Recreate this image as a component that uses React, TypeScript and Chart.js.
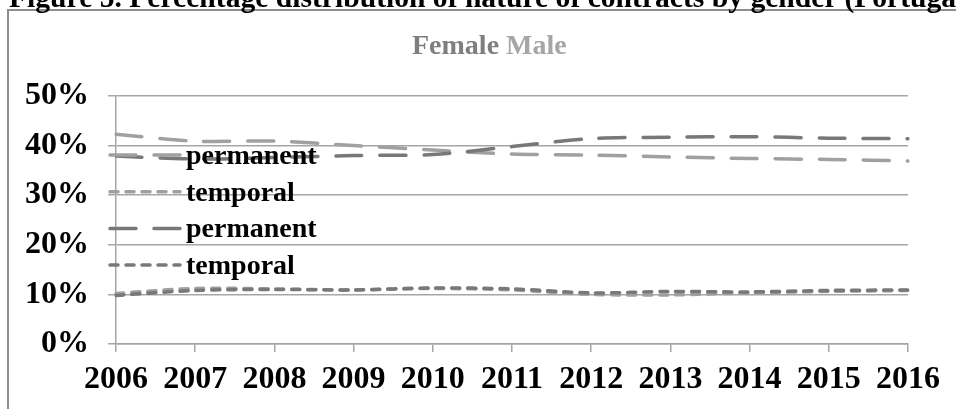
import React, { useEffect, useRef } from "react";
import { Chart, registerables } from "chart.js";

Chart.register(...registerables);

const FONT = "'Liberation Serif', 'Times New Roman', serif";

const titleText = "Figure 5. Percentage distribution of nature of contracts by gender (Portugal)";
const groupLabels = ["Female", "Male"];
const years = ["2006", "2007", "2008", "2009", "2010", "2011", "2012", "2013", "2014", "2015", "2016"];
const seriesLabels = ["permanent", "temporal", "permanent", "temporal"];
const lightPermanent = [42.3, 40.9, 40.9, 40.0, 39.1, 38.3, 38.1, 37.7, 37.4, 37.2, 36.9];
const lightTemporal = [10.2, 11.2, 11.1, 10.9, 11.2, 10.9, 10.0, 9.9, 10.3, 10.6, 10.8];
const darkPermanent = [37.9, 37.3, 37.6, 38.0, 38.2, 39.8, 41.4, 41.7, 41.8, 41.5, 41.4];
const darkTemporal = [9.8, 10.8, 11.0, 10.9, 11.3, 11.1, 10.3, 10.6, 10.5, 10.8, 10.9];
const yTicks = [0, 10, 20, 30, 40, 50];

const LIGHT = "#a0a0a0";
const DARK = "#787878";
const GRID = "#a6a6a6";
const LONG_DASH = [26, 18];
const SHORT_DASH = [8, 8];

const inlineLegend = {
  id: "inlineLegend",
  afterDatasetsDraw(chart: any) {
    const { ctx, chartArea } = chart;
    const x0 = chartArea.left - 6;
    const x1 = chartArea.left + 64;
    const tx = chartArea.left + 70;
    const rowStart = chartArea.top + 59;
    const rowGap = 36.7;
    ctx.save();
    chart.data.datasets.forEach((ds: any, i: number) => {
      const y = rowStart + i * rowGap;
      ctx.beginPath();
      ctx.setLineDash(ds.borderDash || []);
      ctx.lineCap = "round";
      ctx.lineWidth = ds.borderWidth;
      ctx.strokeStyle = ds.borderColor;
      ctx.moveTo(x0, y);
      ctx.lineTo(x1, y);
      ctx.stroke();
      ctx.setLineDash([]);
      ctx.fillStyle = "#000";
      ctx.font = `bold 28px ${FONT}`;
      ctx.textAlign = "left";
      ctx.textBaseline = "alphabetic";
      ctx.fillText(seriesLabels[i], tx, y + 9);
    });
    ctx.restore();
  },
};

export default function App() {
  const ref = useRef<HTMLCanvasElement | null>(null);

  useEffect(() => {
    if (!ref.current) return;
    const mk = (data: number[], color: string, dash: number[], order: number) => ({
      data,
      borderColor: color,
      backgroundColor: color,
      borderWidth: 3.5,
      borderDash: dash,
      borderCapStyle: "round" as const,
      borderJoinStyle: "round" as const,
      pointRadius: 0,
      tension: 0.3,
      fill: false,
      order,
    });
    const chart = new Chart(ref.current, {
      type: "line",
      data: {
        labels: years,
        datasets: [
          { label: seriesLabels[0], ...mk(lightPermanent, LIGHT, LONG_DASH, 1) },
          { label: seriesLabels[1], ...mk(lightTemporal, LIGHT, SHORT_DASH, 1) },
          { label: seriesLabels[2], ...mk(darkPermanent, DARK, LONG_DASH, 0) },
          { label: seriesLabels[3], ...mk(darkTemporal, DARK, SHORT_DASH, 0) },
        ],
      },
      options: {
        animation: false,
        responsive: false,
        layout: { padding: { top: 96, right: 48, left: 0, bottom: 0 } },
        plugins: {
          legend: { display: false },
          tooltip: { enabled: false },
          title: { display: false },
        },
        scales: {
          x: {
            type: "category",
            offset: false,
            grid: { drawOnChartArea: false, drawTicks: true, tickLength: 8, color: GRID, lineWidth: 1.5 },
            border: { display: true, color: GRID, width: 1.5 },
            ticks: {
              color: "#000",
              font: { family: FONT, size: 32, weight: "bold" },
              padding: 9,
              maxRotation: 0,
              autoSkip: false,
            },
            afterFit: (s: any) => {
              s.height = 65;
            },
          },
          y: {
            min: 0,
            max: 50,
            afterBuildTicks: (s: any) => {
              s.ticks = yTicks.map((v) => ({ value: v }));
            },
            grid: { color: GRID, lineWidth: 1.5, tickLength: 8 },
            border: { color: GRID, width: 1.5 },
            ticks: {
              color: "#000",
              font: { family: FONT, size: 32, weight: "bold" },
              padding: 19,
              callback: (v: any) => `${v}%`,
            },
            afterFit: (s: any) => {
              s.width = 116;
            },
          },
        },
      },
      plugins: [inlineLegend],
    });
    return () => chart.destroy();
  }, []);

  return (
    <div
      style={{
        position: "fixed",
        left: 0,
        top: 0,
        width: 956,
        height: 409,
        overflow: "hidden",
        background: "#fff",
      }}
    >
      <div
        style={{
          position: "absolute",
          left: 7,
          top: 9,
          width: 1000,
          height: 500,
          border: "2px solid #8e8e8e",
          boxSizing: "border-box",
        }}
      />
      <canvas ref={ref} width={956} height={409} style={{ position: "absolute", left: 0, top: 0 }} />
      <div
        style={{
          position: "absolute",
          left: 9,
          top: -18,
          font: `bold 29.6px ${FONT}`,
          lineHeight: "30px",
          whiteSpace: "nowrap",
          color: "#000",
        }}
      >
        {titleText}
      </div>
      <div
        style={{
          position: "absolute",
          left: 412,
          top: 31,
          font: `bold 28px ${FONT}`,
          lineHeight: "28px",
          whiteSpace: "nowrap",
        }}
      >
        <span style={{ color: "#7f7f7f" }}>{groupLabels[0]}</span>{" "}
        <span style={{ color: "#a6a6a6" }}>{groupLabels[1]}</span>
      </div>
    </div>
  );
}
